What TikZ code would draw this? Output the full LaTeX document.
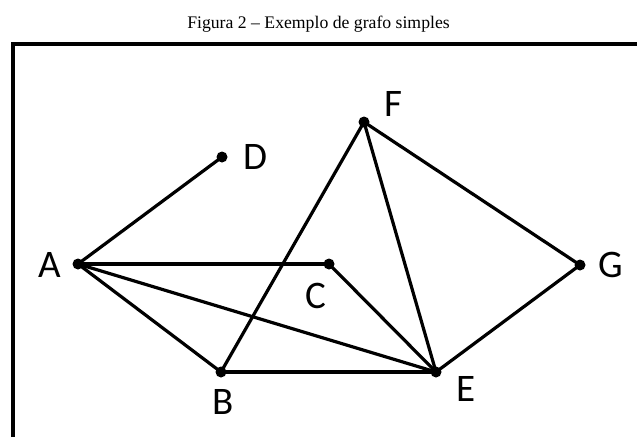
\documentclass[tikz,border=0pt]{standalone}
\usepackage{fontspec}
\setmainfont{Liberation Serif}
\newfontfamily\lblfont{Carlito}
\begin{document}
\begin{tikzpicture}[x=1pt,y=-1pt,
  vtx/.style={circle,fill=black,inner sep=0pt,minimum size=11pt},
  lbl/.style={font=\lblfont\fontsize{39}{39}\selectfont,inner sep=0pt,anchor=center},
  edge/.style={line width=3.2pt},
  thickedge/.style={line width=4.6pt}]
\useasboundingbox (0,0) rectangle (637,437);
\fill[white] (0,0) rectangle (637,437);
\node[font=\fontsize{17.7}{20}\selectfont,anchor=base,inner sep=0pt] (title) at (318.5,28) {Figura 2 – Exemplo de grafo simples};
\draw[line width=4pt] (13,437) -- (13,44) -- (637,44);
\node[vtx] (A) at (78,264) {};
\node[vtx] (D) at (222,157) {};
\node[vtx] (F) at (364,122) {};
\node[vtx] (C) at (329,264) {};
\node[vtx] (G) at (580,265) {};
\node[vtx] (B) at (221,372) {};
\node[vtx] (E) at (436,372) {};
\node[lbl] (lA) at (50,265) {A};
\node[lbl] (lD) at (255,157) {D};
\node[lbl] (lF) at (393,104) {F};
\node[lbl] (lC) at (316,296) {C};
\node[lbl] (lG) at (611,265) {G};
\node[lbl] (lB) at (223,402) {B};
\node[lbl] (lE) at (466,389) {E};
\draw[edge] (A.center) -- (D.center);
\draw[thickedge] (A.center) -- (C.center);
\draw[edge] (A.center) -- (B.center);
\draw[edge] (A.center) -- (E.center);
\draw[edge] (B.center) -- (F.center);
\draw[edge] (B.center) -- (E.center);
\draw[edge] (C.center) -- (E.center);
\draw[edge] (F.center) -- (E.center);
\draw[edge] (F.center) -- (G.center);
\draw[edge] (G.center) -- (E.center);
\end{tikzpicture}
\end{document}
